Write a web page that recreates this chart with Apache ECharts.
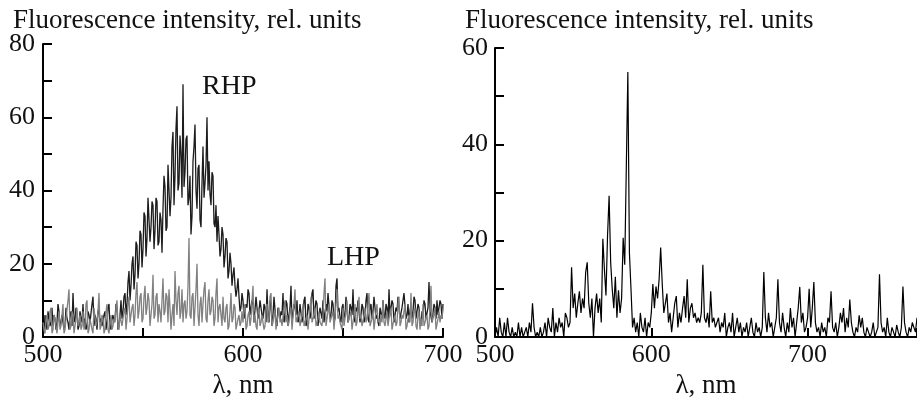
<!DOCTYPE html>
<html><head><meta charset="utf-8">
<script src="https://cdn.jsdelivr.net/npm/echarts@6/dist/echarts.min.js"></script>
<style>html,body{margin:0;padding:0;background:#fff}#c{width:917px;height:398px}</style>
</head><body><div id="c"></div>
<script>
// Left panel: wavelengths 500..700 nm, 0.5 nm step
const leftStart = 500;
const leftStep = 0.5;
const rhp = [
3,1,6,4,2,7,5,3,4,8,3,6,5,2,4,9,7,3,4,6,
6,2,3,8,5,4,2,6,7,3,12,5,4,8,6,2,3,7,5,4,
9,3,5,2,3,7,6,4,4,9,11,3,6,5,2,7,8,4,5,3,
3,6,7,2,4,8,9,3,2,5,6,4,5,9,8,2,3,6,10,5,
7,11,12,6,9,15,18,10,14,20,22,13,17,26,25,16,20,29,28,19,
24,34,33,22,27,38,38,26,30,37,36,24,29,38,37,25,26,34,32,23,
35,44,41,29,30,47,47,33,38,52,56,36,44,57,63,40,42,55,50,38,
69,41,45,54,55,36,38,44,28,33,48,52,58,40,35,46,47,32,30,42,
52,38,42,47,60,40,48,39,36,45,44,31,30,36,26,33,28,22,24,30,
28,19,22,27,26,16,18,23,20,14,17,19,14,11,13,16,11,7,8,12,
10,5,5,9,8,13,12,6,6,10,9,4,4,11,11,5,7,10,10,6,
5,9,8,4,13,6,4,10,9,3,6,11,11,4,3,8,8,5,7,6,
12,4,5,10,9,3,6,8,14,4,4,9,8,6,10,4,5,9,9,4,
6,10,11,3,4,9,8,5,7,12,13,5,5,10,9,3,3,8,8,5,
10,4,4,9,7,12,12,5,6,10,9,4,5,14,16,7,8,5,4,8,
9,5,6,11,11,4,5,9,8,6,13,5,4,8,7,10,10,4,6,9,
8,4,5,10,12,5,4,8,9,5,7,11,11,5,6,4,3,8,8,5,
10,6,5,9,8,4,13,6,6,10,9,4,4,8,7,11,11,5,5,8,
8,12,12,5,6,9,4,7,9,5,7,11,10,5,5,9,8,4,3,7,
6,10,9,5,5,8,15,7,7,4,4,9,8,5,10,6,6,10,9,5,
9];
const lhp = [
4,2,1,5,6,2,3,7,8,1,2,6,5,3,1,4,7,2,3,6,
9,1,2,5,5,10,13,2,3,7,6,1,1,5,8,3,4,6,2,3,
7,2,3,9,10,1,2,5,5,2,1,8,8,3,4,7,12,2,3,6,
5,1,2,7,9,2,1,4,6,2,3,5,4,8,10,3,2,6,6,3,
3,7,8,2,5,9,11,4,4,8,9,3,6,12,15,5,7,11,12,4,
5,11,14,6,8,12,10,3,3,9,17,5,6,11,12,4,9,7,4,10,
16,6,7,12,11,4,13,8,2,6,9,3,18,10,6,12,14,5,7,13,
4,9,10,5,7,14,27,6,5,11,12,3,8,13,20,6,3,9,11,4,
9,13,15,5,4,10,13,6,7,11,10,3,5,12,16,4,8,9,6,3,
11,5,4,8,9,2,3,7,12,4,5,9,8,2,2,5,6,3,4,7,
4,8,9,2,3,6,7,3,5,10,14,4,6,3,2,7,8,3,4,6,
6,2,3,8,9,4,5,11,12,3,4,6,7,2,2,6,8,4,5,3,
3,8,10,4,6,3,4,7,8,2,2,9,13,4,5,6,7,3,3,6,
9,3,4,5,6,2,2,8,11,4,5,6,8,3,3,5,7,4,4,3,
6,12,16,3,3,7,9,4,5,6,7,2,2,9,13,5,6,4,4,2,
8,3,3,7,10,4,5,6,7,2,2,6,9,3,4,8,11,5,6,3,
3,6,8,4,5,9,12,3,4,5,7,2,2,7,9,4,5,3,6,4,
10,4,3,5,7,3,5,6,8,2,2,5,6,3,4,9,11,3,4,6,
5,7,9,2,3,5,6,4,12,3,4,7,8,3,2,6,7,2,5,3,
9,3,4,5,6,2,3,8,14,4,5,6,8,2,2,5,7,4,6,5,
8];
// Right panel: wavelengths 500..770 nm, 1 nm step
const rightStart = 500;
const rightStep = 1;
const right = [
0,2,0,4,1,0,3,0,4,1,
0,2,0,1,0,3,0,2,0,1,
2,0,3,1,7,2,0,1,0,2,
0,1,3,0,4,2,1,6,0,3,
1,4,2,3,0,5,4,2,3,14.5,
6,9,4,7,9.5,5,8,6,13.4,15.5,
7,4,8,0,6,9,5,8,3,20.4,
14,8.6,21,29.3,15.5,10,6,12.5,4,9.7,
5,8,20.6,15,35,55,17.5,10,2,4,
1,3,0,5,2,1,4,0,3,2,
5,11,6,10.5,8,12,18.6,11,5,7,
9,3,5,1,4,7,8.5,2,5,3,
6,8.5,4,12,3,6,7,4,5,3,
4,3,5,15,4,3,5,2,9.5,3,
4,2,3,4,1,3,2,5,0,2,
3,1,5,0,2,4,1,3,0,2,
1,3,0,2,4,1,0,3,1,2,
0,2,13.5,4,1,5,2,3,0,2,
4,12,3,1,5,2,0,3,1,6,
2,4,0,3,6,10.4,3,5,1,2,
4,10,2,6,11.4,3,1,2,0,3,
1,2,0,4,3,9.5,2,1,3,0,
2,5,3,6,1,4,2,7.8,3,1,
0,2,1,4.5,2,4,1,0,2,1,
0,1,3,0,1,2,13,3,1,2,
0,4,1,0,2,1,0,2.5,1,0,
2,10.5,3,1,0,2,1,3,2,1,
4];
const titleText = 'Fluorescence intensity, rel. units';
const xName = 'λ, nm';
const seriesNames = ['RHP', 'LHP'];

const pairs = (arr, start, step) => arr.map((v, i) => [start + i * step, v]);
const FONT = '"Liberation Serif","DejaVu Serif",serif';
const txt = {fontFamily: FONT, fontSize: 27, color: '#111'};
const tickTxt = {fontFamily: FONT, fontSize: 26, color: '#111'};

function xAxis(gridIndex, max, interval) {
  return {
    type: 'value', gridIndex, min: 500, max, interval,
    name: xName, nameLocation: 'middle', nameGap: 26,
    nameTextStyle: Object.assign({}, txt),
    axisLine: {lineStyle: {color: '#000', width: 2}},
    axisTick: {inside: true, length: 9, lineStyle: {color: '#000', width: 2}},
    axisLabel: Object.assign({margin: 5, formatter: v => (v % 100 === 0 ? String(v) : '')}, tickTxt),
    splitLine: {show: false}
  };
}
function yAxis(gridIndex, max, margin) {
  return {
    type: 'value', gridIndex, min: 0, max, interval: 10,
    axisLine: {show: true, lineStyle: {color: '#000', width: 2}},
    axisTick: {show: true, inside: true, length: 9, lineStyle: {color: '#000', width: 2}},
    axisLabel: Object.assign({margin, formatter: v => (v % 20 === 0 ? String(v) : '')}, tickTxt),
    splitLine: {show: false}
  };
}

const chart = echarts.init(document.getElementById('c'));
chart.setOption({
  animation: false,
  backgroundColor: '#fff',
  title: [
    {text: titleText, left: 8, top: 2, textStyle: Object.assign({fontWeight: 'normal'}, txt)},
    {text: titleText, left: 460, top: 2, textStyle: Object.assign({fontWeight: 'normal'}, txt)}
  ],
  grid: [
    {left: 43, top: 44, width: 400, height: 293, outerBoundsMode: 'none', containLabel: false},
    {left: 495, top: 48, width: 422, height: 289, outerBoundsMode: 'none', containLabel: false}
  ],
  xAxis: [xAxis(0, 700, 50), xAxis(1, 770, 100)],
  yAxis: [yAxis(0, 80, 8), yAxis(1, 60, 7)],
  series: [
    {name: seriesNames[0], type: 'line', xAxisIndex: 0, yAxisIndex: 0, data: pairs(rhp, leftStart, leftStep),
     showSymbol: false, lineStyle: {color: '#1c1c1c', width: 1.3}, z: 2},
    {name: seriesNames[1], type: 'line', xAxisIndex: 0, yAxisIndex: 0, data: pairs(lhp, leftStart, leftStep),
     showSymbol: false, lineStyle: {color: '#808080', width: 1.3}, z: 3},
    {name: 'spectrum', type: 'line', xAxisIndex: 1, yAxisIndex: 1, data: pairs(right, rightStart, rightStep),
     showSymbol: false, lineStyle: {color: '#000', width: 1.2}, z: 2}
  ],
  graphic: [
    {type: 'text', left: 202, top: 73, style: {text: seriesNames[0], fill: '#111', font: '28px ' + FONT}},
    {type: 'text', left: 327, top: 244, style: {text: seriesNames[1], fill: '#111', font: '28px ' + FONT}}
  ]
});
</script></body></html>
